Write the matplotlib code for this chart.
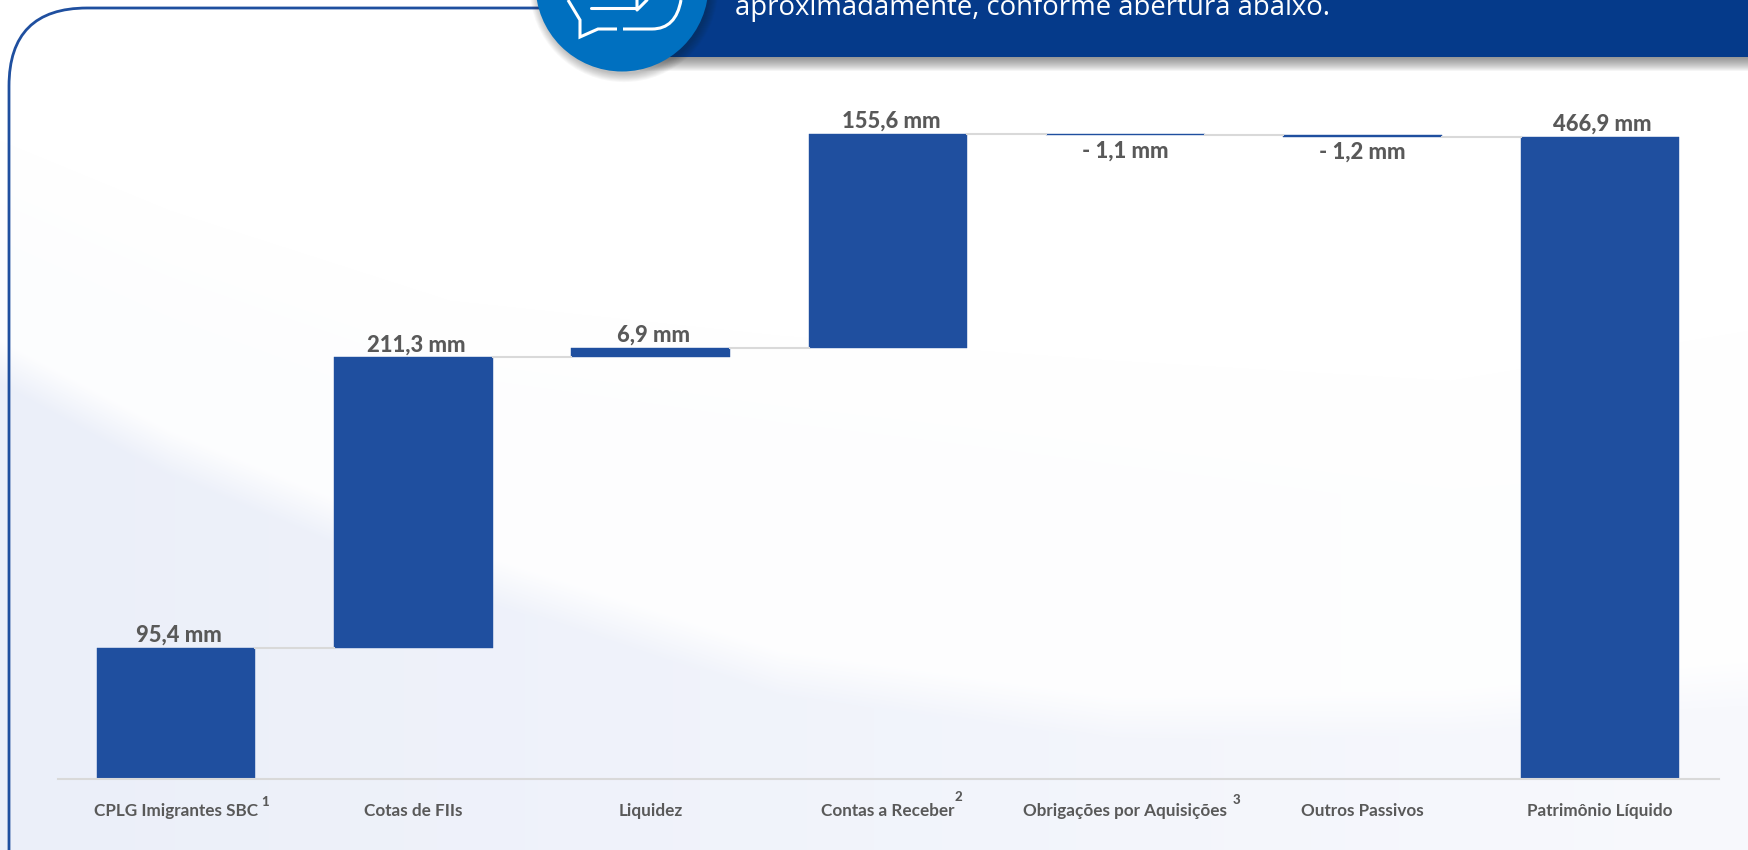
import numpy as np
import matplotlib
matplotlib.use('Agg')
from matplotlib import pyplot as plt
from matplotlib.patches import Circle, Rectangle, PathPatch
from matplotlib.path import Path

categories = ['CPLG Imigrantes SBC', 'Cotas de FIIs', 'Liquidez', 'Contas a Receber',
              'Obrigações por Aquisições', 'Outros Passivos', 'Patrimônio Líquido']
values = [95.4, 211.3, 6.9, 155.6, -1.1, -1.2, 466.9]
value_labels = ['95,4 mm', '211,3 mm', '6,9 mm', '155,6 mm', '- 1,1 mm', '- 1,2 mm', '466,9 mm']
footnotes = ['1', '', '', '2', '3', '', '']
header_text = 'aproximadamente, conforme abertura abaixo.'

W, H = 1748, 850
BLUE = '#1f4f9f'
GREY = '#595959'
plt.rcParams['font.family'] = ['Lato', 'DejaVu Sans']

fig = plt.figure(figsize=(W / 100, H / 100), dpi=100)

# background, header and frame are drawn in pixel coordinates
bg = fig.add_axes([0, 0, 1, 1], zorder=0)
bg.set_xlim(0, W)
bg.set_ylim(H, 0)
bg.axis('off')

xx, yy = np.meshgrid(np.arange(W), np.arange(H))
wave_x = [0, 170, 450, 780, 1115, 1450, 1748]
wave_y = [340, 430, 545, 650, 695, 690, 660]
wave2_y = [140, 210, 300, 335, 360, 380, 330]
edge = np.interp(xx, wave_x, wave_y)
edge2 = np.interp(xx, wave_x, wave2_y)
lower = np.clip((yy - edge) / 45, 0, 1)
upper = np.clip((yy - edge2) / 120, 0, 1)
left_col = np.array([235, 239, 249.])
right_col = np.array([248, 249, 253.])
t = (xx / W)[..., None]
col = left_col * (1 - t) + right_col * t
mix = (0.12 * upper + 0.88 * lower)[..., None]
img = (255 * (1 - mix) + col * mix) / 255
bg.imshow(img, extent=(0, W, H, 0), aspect='auto', zorder=0, interpolation='bilinear')
bg.set_xlim(0, W)
bg.set_ylim(H, 0)

# frame with rounded corner
r = 78
frame = Path([(9, H + 5), (9, 8 + r), (9, 8), (9 + r, 8), (545, 8)],
             [Path.MOVETO, Path.LINETO, Path.CURVE3, Path.CURVE3, Path.LINETO])
bg.add_patch(PathPatch(frame, fc='none', ec=BLUE, lw=2.0, zorder=2))

# header band with soft shadow
for i in range(14):
    bg.add_patch(Rectangle((640, 57), W - 640, i + 1, fc='#404040', ec='none',
                           alpha=0.05, zorder=3))
bg.add_patch(Rectangle((640, -5), W - 640, 62, fc='#053a8a', ec='none', zorder=4))
bg.text(735, 15, header_text, color='white', fontsize=19.83, family=['Open Sans', 'DejaVu Sans'],
        va='baseline', ha='left', zorder=7)

# round icon
for i in range(10):
    bg.add_patch(Circle((624, -12), 86 + i * 0.9, fc='#202020', ec='none', alpha=0.03, zorder=5))
bg.add_patch(Circle((622, -15), 86.5, fc='#0070c0', ec='none', zorder=6))
icon_style = dict(color='white', lw=2.2, zorder=7, solid_capstyle='round', solid_joinstyle='round')
bubble = Path([(568, 0), (580, 20), (580, 37), (598, 29), (617, 29)],
              [Path.MOVETO, Path.LINETO, Path.LINETO, Path.LINETO, Path.LINETO])
bg.add_patch(PathPatch(bubble, fc='none', ec='white', lw=2.2, zorder=7))
bubble2 = Path([(623, 29), (652, 29), (676, 29), (681, 0)],
               [Path.MOVETO, Path.LINETO, Path.CURVE3, Path.CURVE3])
bg.add_patch(PathPatch(bubble2, fc='none', ec='white', lw=2.2, zorder=7))
bg.plot([591, 637], [8, 8], **icon_style)
bg.plot([637, 637, 647], [0, 10, 0], **icon_style)

# waterfall
ax = fig.add_axes([57.5 / W, (H - 779) / H, (1718.5 - 57.5) / W, (779 - 100) / H], zorder=1)
ax.patch.set_alpha(0)
x = np.arange(len(values))
cum = np.cumsum(values[:-1])
cum = np.append(cum, values[-1])
bottoms = [0] + list(cum[:-2]) + [0]
bar_w = 0.668
ax.bar(x, values, width=bar_w, bottom=bottoms, color=BLUE, edgecolor=BLUE, linewidth=0.3)

for i in range(len(values) - 1):
    ax.plot([x[i] + bar_w / 2, x[i + 1] - bar_w / 2], [cum[i], cum[i]], color='#d9d9d9', lw=1.5)

for i, v in enumerate(values):
    if v >= 0:
        ax.annotate(value_labels[i], (x[i], cum[i]), xytext=(2, 1.5), textcoords='offset points',
                    ha='center', va='bottom', fontsize=15.8, fontweight='black', color=GREY)
    else:
        ax.annotate(value_labels[i], (x[i], bottoms[i] + v), xytext=(0, -3.5), textcoords='offset points',
                    ha='center', va='top', fontsize=15.8, fontweight='black', color=GREY)

ax.set_xlim(-0.5, 6.5)
ax.set_ylim(0, (779 - 100) / 1.375)
ax.set_xticks(x)
ax.set_xticklabels(categories, fontsize=12.3, fontweight='bold', color=GREY)
ax.tick_params(axis='x', length=0, pad=17)
ax.set_yticks([])
for s in ['top', 'left', 'right']:
    ax.spines[s].set_visible(False)
ax.spines['bottom'].set_color('#d9d9d9')
ax.spines['bottom'].set_linewidth(1.5)

# footnote marks, placed just after the tick labels
fig.canvas.draw()
renderer = fig.canvas.get_renderer()
sup_shift = {'1': 3, '2': 0, '3': 5}
sup_y = {'1': 802, '2': 797, '3': 800}
for lab, mark in zip(ax.get_xticklabels(), footnotes):
    if mark:
        ext = lab.get_window_extent(renderer)
        bg.text(ext.x1 + sup_shift[mark], sup_y[mark], mark, fontsize=9.5, fontweight='black',
                color=GREY, ha='left', va='center', zorder=7)

fig.savefig('out.png', dpi=100)
